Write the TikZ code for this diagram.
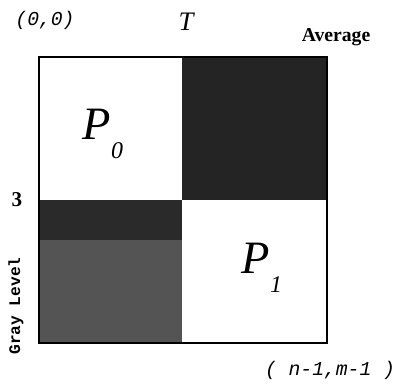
\documentclass[tikz,border=0pt]{standalone}
\usepackage{fontspec}
\setmainfont{Liberation Serif}
\setmonofont{Liberation Mono}
\definecolor{blkfill}{RGB}{36,36,36}
\definecolor{bandfill}{RGB}{42,42,42}
\definecolor{grayfill}{RGB}{84,84,84}
\usetikzlibrary{positioning}

\begin{document}
\begin{tikzpicture}[x=0.025cm,y=-0.025cm]
  \useasboundingbox (0,0) rectangle (399,389);
  \tikzset{region/.style={draw=none, inner sep=0pt, outer sep=0pt},
    plabel/.style={font=\fontsize{33}{33}\selectfont\itshape},
    coordlabel/.style={font=\fontsize{14}{14}\selectfont\ttfamily\itshape}}
  % four blocks of the square
  \node[region, fill=white, minimum width=143*0.025cm, minimum height=143*0.025cm, anchor=north west] (p0) at (39,57) {};
  \node[region, fill=blkfill, minimum width=145*0.025cm, minimum height=143*0.025cm, anchor=north west] (dark) at (182,57) {};
  \node[region, fill=bandfill, minimum width=143*0.025cm, minimum height=40*0.025cm, anchor=north west] (band) at (39,200) {};
  \node[region, fill=grayfill, minimum width=143*0.025cm, minimum height=103*0.025cm, anchor=north west] (gray) at (39,240) {};
  \node[region, fill=white, minimum width=145*0.025cm, minimum height=143*0.025cm, anchor=north west] (p1) at (182,200) {};
  \draw[line width=1.1pt] (p0.north west) rectangle (p1.south east);

  % labels
  \node[coordlabel] (origin) at (45,20) {(0,0)};
  \node[font=\fontsize{19}{19}\selectfont\itshape] (thr) at (186,22) {T};
  \node[font=\fontsize{14}{14}\selectfont\bfseries] (avg) at (336,37) {Average};
  \node[plabel] (lab0) at (103,134) {P\raisebox{-0.4em}{\fontsize{17}{17}\selectfont 0}};
  \node[plabel] (lab1) at (262,268) {P\raisebox{-0.4em}{\fontsize{17}{17}\selectfont 1}};
  \node[font=\fontsize{15}{15}\selectfont\bfseries] (three) at (17,200) {3};
  \node[font=\fontsize{11.5}{11.5}\selectfont\ttfamily\bfseries, rotate=90] (glvl) at (16,306) {Gray Level};
  \node[coordlabel] (corner) at (330,370) {( n-1,m-1 )};
\end{tikzpicture}
\end{document}
